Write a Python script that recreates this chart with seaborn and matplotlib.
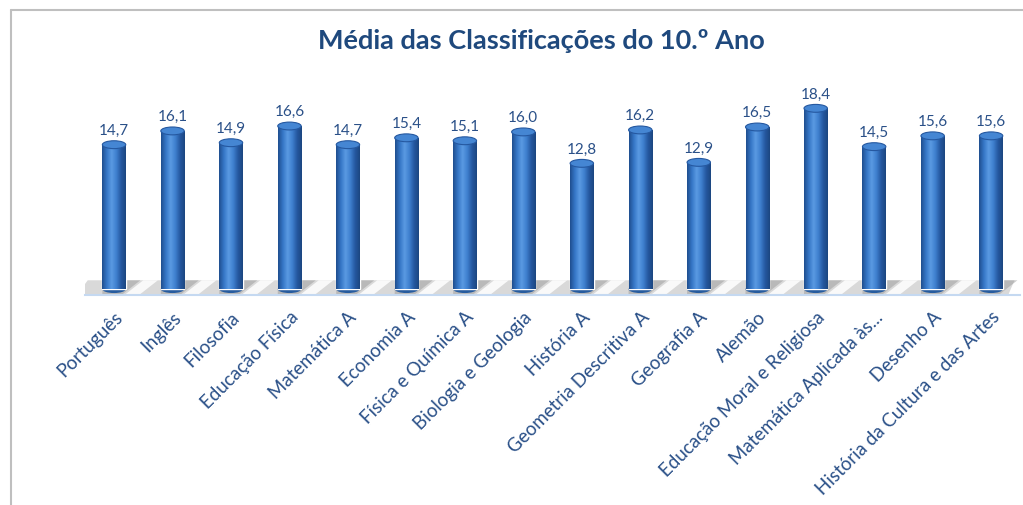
import numpy as np
import pandas as pd
import matplotlib
matplotlib.use("Agg")
import matplotlib.pyplot as plt
import seaborn as sns
from matplotlib.colors import LinearSegmentedColormap
from matplotlib.patches import Ellipse, Polygon
from matplotlib.lines import Line2D


# data
disciplinas = [
    "Português", "Inglês", "Filosofia", "Educação Física", "Matemática A",
    "Economia A", "Física e Química A", "Biologia e Geologia", "História A",
    "Geometria Descritiva A", "Geografia A", "Alemão",
    "Educação Moral e Religiosa", "Matemática Aplicada às...", "Desenho A",
    "História da Cultura e das Artes",
]
medias = [14.7, 16.1, 14.9, 16.6, 14.7, 15.4, 15.1, 16.0, 12.8,
          16.2, 12.9, 16.5, 18.4, 14.5, 15.6, 15.6]

titulo = "Média das Classificações do 10.º Ano"

df = pd.DataFrame({"disciplina": disciplinas, "media": medias})

sns.set_theme(style="white")
plt.rcParams["font.family"] = ["Lato", "DejaVu Sans"]

txt_blue = "#2A5088"
fig = plt.figure(figsize=(10.23, 5.06), dpi=100)
ax = fig.add_axes([0.0829, 0.415, 0.9145, 0.400])

ax = sns.barplot(data=df, x="disciplina", y="media", color="#3474C4",
                 width=0.40, ax=ax, zorder=3)
bars = list(ax.patches)

ax.set_ylim(-0.6, 20)
ax.set_xlim(-0.5, len(disciplinas) - 0.5)

# floor under the cylinders
ax.add_patch(Polygon([[-0.62, -0.5], [-0.45, 0.9], [15.4, 0.9], [15.3, -0.5]],
                     closed=True, color="#d9d9d9", lw=0, zorder=1))
for i in range(len(disciplinas)):
    # darker shadow behind each cylinder, white gap between them
    ax.add_patch(Polygon([[i - 0.2, 0.9], [i + 0.45, 0.9], [i + 0.15, -0.5], [i - 0.2, -0.5]],
                         closed=True, color="#9a9a9a", alpha=0.5, lw=0, zorder=1.5))
    if i < len(disciplinas) - 1:
        ax.add_patch(Polygon([[i + 0.5, 0.9], [i + 0.75, 0.9], [i + 0.45, -0.5], [i + 0.2, -0.5]],
                             closed=True, color="white", alpha=0.85, lw=0, zorder=1.5))

# cylinder shading
cyl = LinearSegmentedColormap.from_list(
    "cyl", ["#1F4E8E", "#3576C6", "#5A9AE2", "#3F80CF", "#2558A0", "#1C4680"])
grad = np.linspace(0, 1, 128).reshape(1, -1)
for p in bars:
    x0, w, h = p.get_x(), p.get_width(), p.get_height()
    # rounded bottom
    ax.add_patch(Ellipse((x0 + w / 2, 0), w, 0.8, color="#275C9F", zorder=2.9, lw=0))
    im = ax.imshow(grad, cmap=cyl, aspect="auto", extent=[x0, x0 + w, 0, h], zorder=3.1)
    im.set_clip_path(p)
    # top cap
    ax.add_patch(Ellipse((x0 + w / 2, h), w, 0.8, facecolor="#4586D3",
                         edgecolor="#2558A0", lw=0.8, zorder=3.3))

for i, v in enumerate(medias):
    ax.text(i, v + 1.5, f"{v:.1f}".replace(".", ","), ha="center", va="center",
            fontsize=11, color=txt_blue, zorder=4)

ax.set_xlabel("")
ax.set_ylabel("")
ax.set_yticks([])
ax.tick_params(axis="x", length=0, pad=9)
ax.set_xticks(range(len(disciplinas)))
ax.set_xticklabels(disciplinas, rotation=45, ha="right", rotation_mode="anchor",
                   fontsize=13.5, color=txt_blue)
for s in ["top", "left", "right"]:
    ax.spines[s].set_visible(False)
ax.spines["bottom"].set_color("#C5D9F1")
ax.spines["bottom"].set_linewidth(1.5)

fig.text(0.529, 0.918, titulo, ha="center", va="center", fontsize=19.5,
         fontweight="bold", color="#1F497D")

# chart frame (top and left edges visible in the screenshot)
fig.add_artist(Line2D([11 / 1023, 1], [1 - 10.5 / 506] * 2, color="#BFBFBF", lw=1.5))
fig.add_artist(Line2D([11 / 1023] * 2, [0, 1 - 10.5 / 506], color="#BFBFBF", lw=1.5))

fig.savefig("out.png", dpi=100)
